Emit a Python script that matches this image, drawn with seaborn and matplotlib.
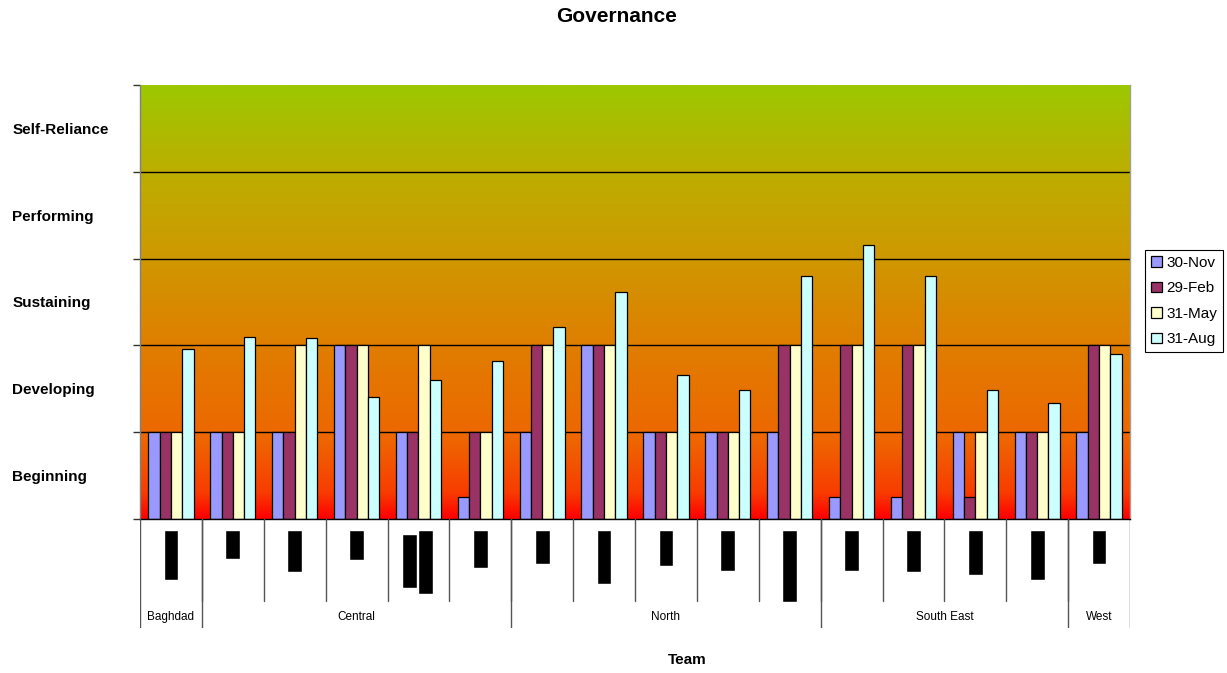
import numpy as np
import pandas as pd
import matplotlib
matplotlib.use("Agg")
import matplotlib.pyplot as plt
from matplotlib.colors import LinearSegmentedColormap
import seaborn as sns

# --- data ---
teams = ["T%02d" % i for i in range(1, 17)]          # team names are redacted in the source
dates = ["30-Nov", "29-Feb", "31-May", "31-Aug"]
nov = [1, 1, 1, 2, 1, 0.25, 1, 2, 1, 1, 1, 0.25, 0.25, 1, 1, 1]
feb = [1, 1, 1, 2, 1, 1, 2, 2, 1, 1, 2, 2, 2, 0.25, 1, 2]
may = [1, 1, 2, 2, 2, 1, 2, 2, 1, 1, 2, 2, 2, 1, 1, 2]
aug = [1.96, 2.10, 2.08, 1.41, 1.60, 1.82, 2.21, 2.62, 1.66, 1.49, 2.80, 3.16, 2.80, 1.49, 1.34, 1.90]

regions = ["Baghdad", "Central", "North", "South East", "West"]
region_sizes = [1, 5, 5, 4, 1]
levels = ["Beginning", "Developing", "Sustaining", "Performing", "Self-Reliance"]

# lengths (px) of the black redaction boxes under each team
redact_len = [50, 29, 42, 30, 64, 38, 34, 54, 36, 41, 72, 41, 42, 45, 50, 34]

colors = ["#9999FF", "#993366", "#FFFFCC", "#CCFFFF"]

df = pd.DataFrame({
    "Team": teams * 4,
    "Date": np.repeat(dates, len(teams)),
    "Score": nov + feb + may + aug,
})

sns.set_style("white")
plt.rcParams["font.family"] = ["Liberation Sans", "DejaVu Sans"]
plt.rcParams["text.color"] = "black"
plt.rcParams["axes.labelcolor"] = "black"
plt.rcParams["xtick.color"] = "black"
plt.rcParams["ytick.color"] = "black"

W, H = 1227, 673
fig = plt.figure(figsize=(W / 100, H / 100), dpi=100)
L, R, T, B = 140, 1130, 85, 519
ax = fig.add_axes([L / W, 1 - B / H, (R - L) / W, (B - T) / H])

# gradient background red -> orange -> olive green
grad = LinearSegmentedColormap.from_list("gov", [
    (0.0, "#FF0000"), (0.06, "#F83C00"), (0.18, "#EE6600"), (0.4, "#E07E00"),
    (0.6, "#CF9800"), (0.8, "#BDAE00"), (1.0, "#9CC800")])
ax.imshow(np.linspace(0, 1, 256).reshape(-1, 1), cmap=grad, origin="lower",
          extent=(-0.5, 15.5, 0, 5), aspect="auto", zorder=0)

sns.barplot(data=df, x="Team", y="Score", hue="Date", palette=colors,
            saturation=1, width=0.73, edgecolor="black", linewidth=0.9,
            ax=ax, zorder=2)

ax.set_xlim(-0.5, 15.5)
ax.set_ylim(0, 5)
ax.set_yticks(range(6))
ax.set_yticklabels([])
ax.set_yticks(np.arange(0.5, 5, 1), minor=True)
ax.set_yticklabels(levels, minor=True, ha="left", fontweight="bold", fontsize=11)
ax.tick_params(axis="y", which="minor", length=0, pad=92)
ax.tick_params(axis="y", which="major", length=5, width=1, color="#333333", left=True)
ax.set_xticks([])
ax.set_xlabel("")
ax.set_ylabel("")
for y in range(1, 5):
    ax.axhline(y, color="black", lw=1, zorder=1)
ax.spines["top"].set_visible(False)
ax.spines["right"].set_color("#A0A0A0")
ax.spines["left"].set_color("#808080")
ax.spines["bottom"].set_color("black")
for s in ax.spines.values():
    s.set_linewidth(1)

h, lab = ax.get_legend_handles_labels()
leg = ax.legend(h, lab, loc="center left", bbox_to_anchor=(1.015, 0.502),
                fontsize=11, frameon=True, fancybox=False, framealpha=1,
                edgecolor="black", handlelength=0.7, handleheight=0.7,
                handletextpad=0.3, labelspacing=0.75, borderpad=0.4,
                borderaxespad=0)
leg.get_frame().set_linewidth(0.8)

# category label area under the plot
ax2 = fig.add_axes([L / W, 1 - 628 / H, (R - L) / W, 109 / H])
ax2.set_xlim(-0.5, 15.5)
ax2.set_ylim(109, 0)
ax2.axis("off")
for i in range(1, 16):
    ax2.plot([i - 0.5, i - 0.5], [0, 82], color="#555555", lw=1)
edges = np.concatenate([[0], np.cumsum(region_sizes)]) - 0.5
for e in edges:
    ax2.plot([e, e], [0, 109], color="#555555", lw=1)
for name, a, b in zip(regions, edges[:-1], edges[1:]):
    ax2.text((a + b) / 2, 98, name, ha="center", va="center", fontsize=8.5)
for i, n in enumerate(redact_len):
    if i == 4:
        ax2.bar(i - 0.14, 54, bottom=15, width=0.24, color="black")
        ax2.bar(i + 0.115, 64, bottom=11, width=0.24, color="black")
    else:
        ax2.bar(i, n, bottom=11, width=0.24, color="black")

fig.text(617 / W, 1 - 16 / H, "Governance", ha="center", va="center",
         fontsize=15, fontweight="bold")
fig.text(687 / W, 1 - 660 / H, "Team", ha="center", va="center",
         fontsize=11, fontweight="bold")

fig.savefig("out.png", dpi=100)
